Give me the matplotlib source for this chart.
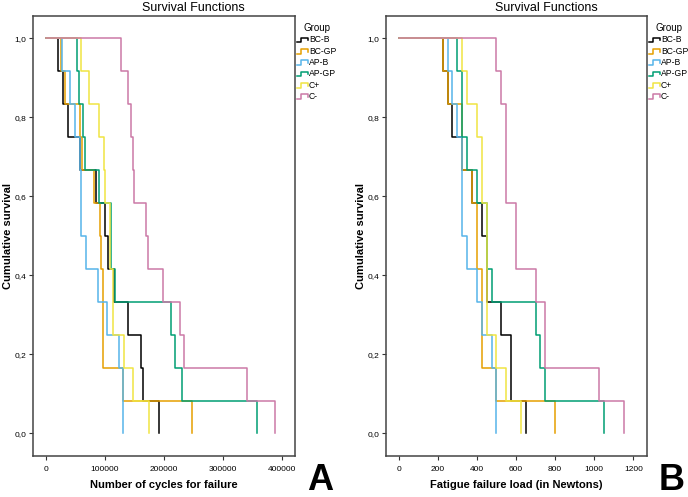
import numpy as np
import matplotlib.pyplot as plt
from matplotlib.lines import Line2D
from matplotlib.legend_handler import HandlerBase

plt.rcParams['font.family'] = ['Liberation Sans', 'DejaVu Sans']

groups = ['BC-B', 'BC-GP', 'AP-B', 'AP-GP', 'C+', 'C-']
colors = ['#000000', '#E69F00', '#56B4E9', '#009E73', '#F0E442', '#CC79A7']

# panel A: number of cycles at failure, 12 specimens per group
cycles_bcb = [20000, 29000, 37000, 58000, 85000, 100000, 106000, 115000, 140000, 162000, 165000, 192000]
cycles_bcgp = [25000, 32000, 57000, 61000, 82000, 91000, 94000, 96000, 96000, 96000, 131000, 248000]
cycles_apb = [28000, 41000, 49000, 58000, 60000, 60000, 68000, 88000, 103000, 124000, 130000, 130000]
cycles_apgp = [52000, 56000, 63000, 67000, 90000, 110000, 111000, 117000, 212000, 219000, 230000, 358000]
cycles_cpos = [59000, 73000, 90000, 99000, 100000, 108000, 109000, 114000, 114000, 133000, 148000, 175000]
cycles_cneg = [127000, 140000, 145000, 147000, 149000, 169000, 173000, 199000, 227000, 235000, 341000, 389000]

# panel B: fatigue failure load (N)
load_bcb = [225, 250, 275, 325, 375, 425, 450, 450, 525, 575, 575, 650]
load_bcgp = [225, 250, 325, 325, 375, 400, 400, 425, 425, 425, 500, 800]
load_apb = [250, 275, 300, 325, 325, 325, 350, 400, 425, 475, 500, 500]
load_apgp = [300, 325, 325, 350, 400, 450, 450, 475, 700, 725, 750, 1050]
load_cpos = [325, 350, 400, 425, 425, 450, 450, 450, 450, 500, 550, 625]
load_cneg = [500, 525, 550, 550, 550, 600, 600, 700, 750, 750, 1025, 1150]

cycles = [cycles_bcb, cycles_bcgp, cycles_apb, cycles_apgp, cycles_cpos, cycles_cneg]
loads = [load_bcb, load_bcgp, load_apb, load_apgp, load_cpos, load_cneg]


class StepHandler(HandlerBase):
    def create_artists(self, legend, orig_handle, xdescent, ydescent, width, height, fontsize, trans):
        xs = np.array([0, 0.4, 0.4, 1.0, 1.0]) * width - xdescent
        ys = np.array([0.05, 0.05, 0.75, 0.75, 0.35]) * height - ydescent
        line = Line2D(xs, ys, color=orig_handle.get_color(), lw=1.1)
        line.set_transform(trans)
        return [line]


def km(times):
    t = np.sort(np.array(times, dtype=float))
    n = len(t)
    x = np.concatenate([[0], t])
    y = np.concatenate([[1.0], 1 - np.arange(1, n + 1) / n])
    return x, y


fig = plt.figure(figsize=(6.88, 4.97), dpi=100)

panels = [
    dict(data=cycles, left=33, right=295, xlim=(-22000, 422500), xticks=np.arange(0, 400001, 100000),
         xlabel='Number of cycles for failure', letter='A', letter_x=320, title_x=193, leg_x=297),
    dict(data=loads, left=386, right=647, xlim=(-65, 1270), xticks=np.arange(0, 1201, 200),
         xlabel='Fatigue failure load (in Newtons)', letter='B', letter_x=672, title_x=546, leg_x=649),
]

W, H = 688, 497
for p in panels:
    ax = fig.add_axes([p['left'] / W, 1 - 456 / H, (p['right'] - p['left']) / W, 440 / H])
    for vals, g, c in zip(p['data'], groups, colors):
        x, y = km(vals)
        ax.step(x, y, where='post', color=c, lw=1.1, label=g)
    ax.set_xlim(*p['xlim'])
    ax.set_ylim(-0.057, 1.056)
    ax.set_xticks(p['xticks'])
    ax.set_xticklabels([str(int(v)) for v in p['xticks']])
    yt = np.arange(0, 1.01, 0.2)
    ax.set_yticks(yt)
    ax.set_yticklabels([f'{v:.1f}'.replace('.', ',') for v in yt])
    ax.tick_params(labelsize=6, length=3, width=0.8, color='#333333')
    ax.tick_params(axis='x', pad=4)
    ax.tick_params(axis='y', pad=2)
    for s in ax.spines.values():
        s.set_color('#444444')
        s.set_linewidth(1.1)
    ax.set_xlabel(p['xlabel'], fontsize=8, fontweight='bold')
    ax.xaxis.set_label_coords(0.5, -(480 - 456) / 440)
    ax.set_ylabel('Cumulative survival', fontsize=8, fontweight='bold')
    ax.yaxis.set_label_coords(-20 / 262, 0.5)
    fig.text(p['title_x'] / W, 1 - 8 / H, 'Survival Functions', ha='center', va='center', fontsize=9)
    fig.text(p['letter_x'] / W, 1 - 481 / H, p['letter'], ha='center', va='center', fontsize=26,
             fontweight='bold')
    handles = [Line2D([], [], color=c) for c in colors]
    leg = ax.legend(handles, groups, handler_map={Line2D: StepHandler()}, title='Group',
                    loc='upper left', bbox_to_anchor=(p['leg_x'] / W, 1 - 23 / H),
                    bbox_transform=fig.transFigure, frameon=False, fontsize=6.2,
                    title_fontsize=7, handlelength=1.3, handleheight=0.8,
                    handletextpad=0.1, labelspacing=0.27, borderpad=0, borderaxespad=0)

fig.savefig('out.png', dpi=100)
